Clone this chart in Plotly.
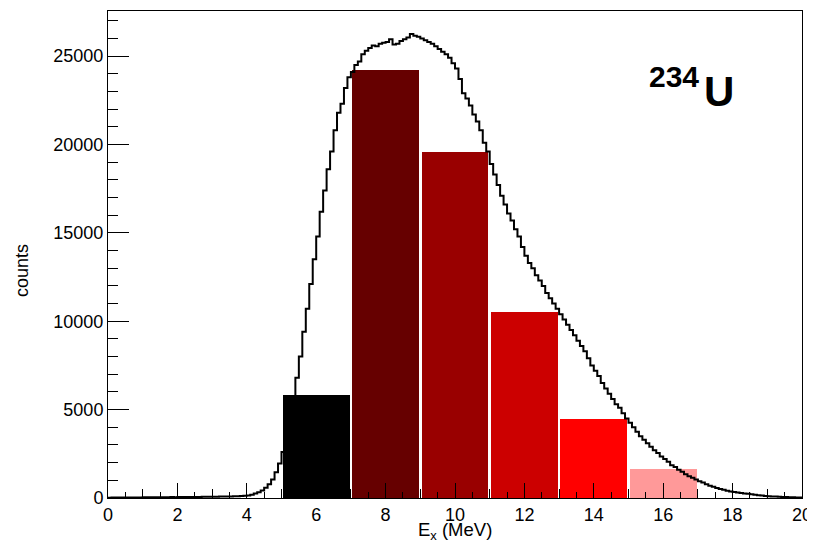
import plotly.graph_objects as go

# ---- data ----
bin_lo = 0.0
bin_width = 0.1
hist_counts = [
    20, 22, 25, 24, 28, 30, 27, 32, 35, 33,
    36, 38, 40, 37, 42, 45, 43, 47, 50, 48,
    52, 55, 53, 58, 60, 62, 60, 65, 68, 70,
    72, 75, 78, 82, 85, 90, 95, 100, 110, 125,
    145, 190, 250, 330, 430, 580, 780, 1050, 1450, 1950,
    2600, 3400, 4500, 5700, 6800, 8000, 9400, 10700, 12100, 13500,
    14800, 16200, 17400, 18600, 19600, 20800, 21800, 22300, 23200, 23800,
    24100, 24500, 24700, 25100, 25300, 25450, 25600, 25550, 25700, 25750,
    25800, 25950, 25650, 25700, 25850, 25950, 26050, 26250, 26150, 26100,
    26000, 25900, 25800, 25700, 25550, 25400, 25250, 25100, 24900, 24600,
    24300, 23700, 22900, 22600, 22200, 21700, 21300, 20800, 20100, 19600,
    18900, 18300, 17700, 17100, 16600, 16100, 15700, 15200, 14800, 14200,
    13700, 13300, 13000, 12600, 12300, 12000, 11600, 11300, 11000, 10700,
    10400, 10100, 9800, 9500, 9200, 8900, 8600, 8300, 7900, 7500,
    7200, 6900, 6500, 6200, 5900, 5600, 5300, 5100, 4800, 4500,
    4250, 4000, 3750, 3500, 3300, 3100, 2900, 2700, 2550, 2350,
    2200, 2050, 1850, 1750, 1600, 1480, 1350, 1230, 1150, 1050,
    950, 870, 780, 700, 630, 570, 510, 460, 410, 370,
    340, 310, 285, 260, 235, 210, 185, 160, 135, 115,
    100, 90, 80, 70, 62, 55, 48, 40, 33, 25,
]
slice_centers = [6, 8, 10, 12, 14, 16]
slice_counts = [5800, 24200, 19580, 10500, 4450, 1650]
slice_colors = ["#000000", "#660000", "#990000", "#CC0000", "#FF0000", "#FF9999"]
x_tick_vals = [0, 2, 4, 6, 8, 10, 12, 14, 16, 18, 20]
y_tick_vals = [0, 5000, 10000, 15000, 20000, 25000]

edges = [bin_lo + i * bin_width for i in range(len(hist_counts) + 1)]
step_y = hist_counts + [hist_counts[-1]]

FONT = "Liberation Sans, Arial, Helvetica, sans-serif"
TICK_SIZE = 18

fig = go.Figure()
fig.add_trace(go.Scatter(
    x=edges, y=step_y, mode="lines", line_shape="hv",
    line=dict(color="black", width=2), hoverinfo="skip", showlegend=False,
))
fig.add_trace(go.Bar(
    x=slice_centers, y=slice_counts, width=1.93,
    marker=dict(color=slice_colors, line=dict(width=0)), showlegend=False,
))
# invisible helper trace for secondary tick axis
fig.add_trace(go.Scatter(x=[0, 20], y=[0, 0], xaxis="x2", mode="lines",
                         line=dict(width=0), hoverinfo="skip", showlegend=False))

# the page body has an 8px margin; the figure is sized to compensate
fig.update_layout(
    width=807, height=537, autosize=False,
    margin=dict(l=100, r=13, t=3, b=47),
    paper_bgcolor="white", plot_bgcolor="white",
    font=dict(family=FONT, size=19, color="black"),
    bargap=0,
    xaxis=dict(
        range=[0, 20], tickvals=x_tick_vals, ticktext=[str(v) for v in x_tick_vals],
        ticks="inside", ticklen=15, tickwidth=1, tickcolor="black",
        minor=dict(dtick=0.5, ticks="inside", ticklen=6, tickcolor="black", showgrid=False),
        showline=True, linecolor="black", linewidth=1, mirror=True, automargin=False,
        showgrid=False, zeroline=False, tickfont=dict(size=TICK_SIZE, family=FONT),
    ),
    xaxis2=dict(
        range=[0, 20], overlaying="x", side="bottom", anchor="y", automargin=False,
        tickvals=[1, 3, 5, 7, 9, 11, 13, 15, 17, 19], ticks="inside", ticklen=9,
        tickcolor="black", showticklabels=False, showline=False, showgrid=False, zeroline=False,
    ),
    yaxis=dict(
        range=[0, 27550], tickvals=y_tick_vals, ticktext=[str(v) for v in y_tick_vals],
        ticks="inside", ticklen=21, tickwidth=1, tickcolor="black",
        minor=dict(dtick=1000, ticks="inside", ticklen=10, tickcolor="black", showgrid=False),
        showline=True, linecolor="black", linewidth=1, mirror=True, automargin=False,
        showgrid=False, zeroline=False, tickfont=dict(size=TICK_SIZE, family=FONT),
    ),
    annotations=[
        dict(text="counts", xref="paper", yref="paper", x=-0.124, y=0.468,
             textangle=-90, showarrow=False, font=dict(size=18, family=FONT),
             xanchor="center", yanchor="middle"),
        dict(text="E<sub>x</sub> (MeV)", xref="paper", yref="paper", x=0.5, y=-0.068,
             showarrow=False, font=dict(size=18.5, family=FONT),
             xanchor="center", yanchor="middle"),
        dict(text="<b>234</b>", xref="paper", yref="paper", x=0.8545, y=0.8665,
             showarrow=False, font=dict(size=30, family=FONT),
             xanchor="right", yanchor="middle"),
        dict(text="<b>U</b>", xref="paper", yref="paper", x=0.856, y=0.834,
             showarrow=False, font=dict(size=42, family=FONT),
             xanchor="left", yanchor="middle"),
    ],
)

fig.write_html("out.html")
